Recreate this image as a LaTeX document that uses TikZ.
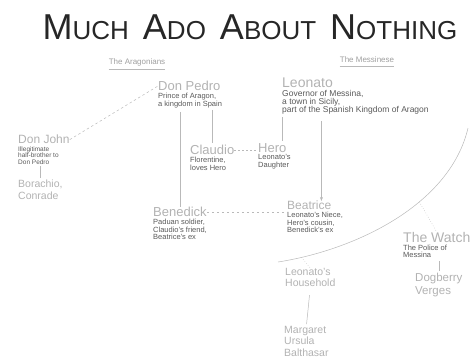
\documentclass[tikz,border=0pt]{standalone}
\usepackage{fontspec}
\setmainfont{Liberation Sans}
\usetikzlibrary{arrows.meta,positioning}
\newcommand{\hcap}[2]{{\fontsize{36}{36}\selectfont #1}{\fontsize{26}{26}\selectfont #2}}

\begin{document}
\begin{tikzpicture}[x=1pt,y=-1pt,
  who/.style={anchor=north west,inner sep=0pt,text=gray!60,align=left,
              font=\fontsize{13}{14}\selectfont},
  minor/.style={who,font=\fontsize{10.5}{11.5}\selectfont},
  note/.style={anchor=north west,inner sep=0pt,text=black!65,align=left,
               font=\fontsize{7.5}{7.5}\selectfont},
  side/.style={inner sep=0pt,text=gray!75,font=\fontsize{8}{8}\selectfont},
  link/.style={gray!55,line width=0.5pt},
  tie/.style={link,dash pattern=on 2.5pt off 2.5pt},
  arr/.style={link,-{Stealth[length=4pt,width=3pt]}}]
  \useasboundingbox (0,0) rectangle (473,360);

  \node[inner sep=0pt,text=black!85] (title) at (250,27)
    {\hcap{M}{UCH}\hspace{14pt}\hcap{A}{DO}\hspace{14pt}\hcap{A}{BOUT}\hspace{14pt}\hcap{N}{OTHING}};
  \node[side] (arag) at (137,62) {The Aragonians};
  \node[side] (mess) at (367,60) {The Messinese};
  \draw[link] ([yshift=-3pt]arag.south west) -- ([yshift=-3pt]arag.south east);
  \draw[link] ([yshift=-3pt]mess.south west) -- ([yshift=-3pt]mess.south east);

  \node[who] (pedro) at (158,81) {Don Pedro};
  \node[note,below=2pt of pedro.south west,anchor=north west] (pedroN) {Prince of Aragon,\\a kingdom in Spain};
  \node[who,font=\fontsize{14}{14}\selectfont] (leonato) at (282,78) {Leonato};
  \node[note,font=\fontsize{8.5}{7.5}\selectfont,below=2pt of leonato.south west,anchor=north west] (leonatoN)
    {Governor of Messina,\\a town in Sicily,\\part of the Spanish Kingdom of Aragon};
  \node[who,font=\fontsize{12}{12}\selectfont] (john) at (18,135) {Don John};
  \node[note,font=\fontsize{6.5}{6.5}\selectfont,below=2pt of john.south west,anchor=north west] (johnN)
    {Illegitimate\\half-brother to\\Don Pedro};
  \node[minor] (borachio) at (18,180) {Borachio,\\Conrade};
  \node[who] (claudio) at (190,145) {Claudio};
  \node[note,below=2pt of claudio.south west,anchor=north west] (claudioN) {Florentine,\\loves Hero};
  \node[who] (hero) at (258,143) {Hero};
  \node[note,below=2pt of hero.south west,anchor=north west] (heroN) {Leonato's\\Daughter};
  \node[who] (benedick) at (153,207) {Benedick};
  \node[note,below=2pt of benedick.south west,anchor=north west] (benedickN)
    {Paduan soldier,\\Claudio's friend,\\Beatrice's ex};
  \node[who,font=\fontsize{12}{12}\selectfont] (beatrice) at (287,201) {Beatrice};
  \node[note,below=2pt of beatrice.south west,anchor=north west] (beatriceN)
    {Leonato's Niece,\\Hero's cousin,\\Benedick's ex};
  \node[minor] (household) at (285,268) {Leonato's\\Household};
  \node[minor] (maids) at (284,326) {Margaret\\Ursula\\Balthasar};
  \node[who,font=\fontsize{14}{14}\selectfont] (watch) at (403,232) {The Watch};
  \node[note,below=2pt of watch.south west,anchor=north west] (watchN) {The Police of\\Messina};
  \node[minor,font=\fontsize{11.5}{13}\selectfont] (dogberry) at (415,273) {Dogberry\\Verges};

  \coordinate (arcL) at (278,262);
  \coordinate (arcR) at (468,128);
  \draw[link] (arcL) .. controls (355,250) and (450,205) .. (arcR)
    coordinate[pos=0.1] (arcHH) coordinate[pos=0.62] (arcW);

  \draw[tie] (john.east) -- (pedro.west);
  \draw[link,shorten <=2pt,shorten >=2pt] (pedroN.south -| claudio.north) -- (claudio.north);
  \draw[link,shorten <=4pt] (pedroN.south -| benedick.north) -- (benedick.north);
  \draw[link,shorten <=2pt,shorten >=2pt] (borachio.north |- johnN.south) -- (borachio.north);
  \draw[tie,dash pattern=on 2pt off 2pt] (claudio.east) -- (claudio.east -| hero.west);
  \draw[link,shorten <=2pt,shorten >=2pt] (leonatoN.south west) -- (leonatoN.south west |- hero.north);
  \draw[arr,shorten <=6pt] ([xshift=-10pt]beatrice.north east |- leonatoN.south) -- ([xshift=-10pt]beatrice.north east);
  \draw[tie] (benedick.east) -- (benedick.east -| beatrice.west);
  \draw[link,dotted] (arcHH) -- (household.north);
  \draw[link,dotted] (arcW) -- (watch.north);
  \draw[link,shorten <=3pt,shorten >=2pt] (watchN.south -| dogberry.north) -- (dogberry.north);
  \draw[link,shorten <=8pt,shorten >=2pt] (household.south) -- (maids.north);
\end{tikzpicture}
\end{document}
